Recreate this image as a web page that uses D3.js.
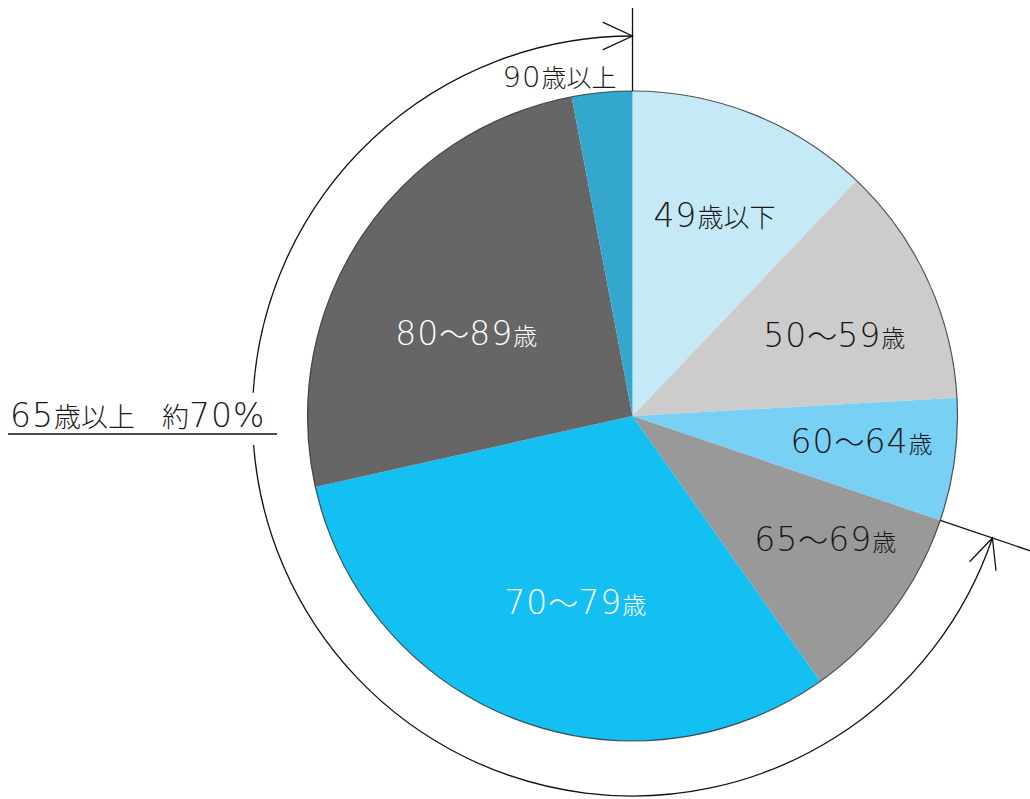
<!DOCTYPE html>
<html lang="ja">
<head>
<meta charset="utf-8">
<script src="https://cdn.jsdelivr.net/npm/d3@7"></script>
<style>
  html, body { margin: 0; padding: 0; background: #ffffff; }
  svg { display: block; }
</style>
</head>
<body>
<svg id="chart" width="1030" height="799"></svg>
<script>
// Age groups (share of total, %), clockwise from 12 o'clock
const categories = ["49歳以下", "50〜59歳", "60〜64歳", "65〜69歳", "70〜79歳", "80〜89歳", "90歳以上"];
const shares = [12.1, 12.0, 6.1, 10.0, 31.3, 25.5, 3.0];
// groups counted as "65歳以上"
const seniorGroups = ["65〜69歳", "70〜79歳", "80〜89歳", "90歳以上"];

const sliceColors = ["#c6e9f8", "#cccccc", "#79d0f5", "#999999", "#14bff1", "#666666", "#33a7cd"];
const labelColors = ["#1a1a1a", "#1a1a1a", "#1a1a1a", "#1a1a1a", "#ffffff", "#ffffff", "#1a1a1a"];

const W = 1030, H = 799;
const cx = 632.5, cy = 416, R = 325;
const ringR = 380;

const svg = d3.select("#chart");
const g = svg.append("g").attr("transform", `translate(${cx},${cy})`);

const pie = d3.pie().sort(null).value(d => d.value).startAngle(0).endAngle(2 * Math.PI);
const arcs = pie(categories.map((c, i) => ({ name: c, value: shares[i], i })));
const arc = d3.arc().innerRadius(0).outerRadius(R);

// slices
g.selectAll("path.slice")
  .data(arcs)
  .join("path")
  .attr("class", "slice")
  .attr("d", arc)
  .attr("fill", d => sliceColors[d.data.i]);

// thin rim
g.append("circle").attr("r", R).attr("fill", "none")
  .attr("stroke", "#2a2a2a").attr("stroke-width", 1.2).attr("stroke-opacity", 0.8);

// polar helper: angle clockwise from 12 o'clock
const polar = (a, r) => [r * Math.sin(a), -r * Math.cos(a)];

// mixed-font text: ASCII digits/symbols in a wide sans, the rest in CJK
function mixedText(sel, str, digitSize, cjkSize, tildeSize) {
  const runs = [];
  for (const ch of str) {
    const type = ch === "〜" ? "t" : (/[\x00-\x7f]/.test(ch) ? "a" : "k");
    if (runs.length && runs[runs.length - 1].type === type) runs[runs.length - 1].s += ch;
    else runs.push({ type, s: ch });
  }
  runs.forEach(r => {
    const t = sel.append("tspan").text(r.s);
    if (r.type === "a") {
      t.attr("font-family", "'DejaVu Sans', sans-serif").attr("font-weight", 200)
       .attr("font-size", digitSize).attr("letter-spacing", 1);
    } else if (r.type === "t") {
      t.attr("font-family", "'Noto Sans CJK JP', sans-serif").attr("font-weight", 300)
       .attr("font-size", tildeSize);
    } else {
      t.attr("font-family", "'Noto Sans CJK JP', sans-serif").attr("font-weight", 300)
       .attr("font-size", cjkSize);
    }
  });
  return sel;
}

// label placement: centroid on an inner ring, with small per-label shifts
const labelArc = d3.arc().innerRadius(218).outerRadius(218);
const labelShift = {
  "49歳以下": [1, 1], "50〜59歳": [4, 11], "60〜64歳": [13, -4],
  "65〜69歳": [18, -7], "70〜79歳": [21, -17], "80〜89歳": [16, 37]
};

arcs.forEach(d => {
  const name = d.data.name;
  if (!(name in labelShift)) return;
  const [x, y] = labelArc.centroid(d);
  const [sx, sy] = labelShift[name];
  const t = g.append("text")
    .attr("x", x + sx).attr("y", y + sy + 12)
    .attr("text-anchor", "middle")
    .attr("fill", labelColors[d.data.i]);
  const cjk = name === "49歳以下" ? 26 : 24;
  mixedText(t, name, 33, cjk, 30);
});

const lineStyle = s => s.attr("stroke", "#111").attr("stroke-width", 1.3).attr("fill", "none");

// vertical marker at 12 o'clock
const [tx0, ty0] = polar(0, R), [tx1, ty1] = polar(0, 408);
g.append("line").attr("x1", tx0).attr("y1", ty0).attr("x2", tx1).attr("y2", ty1).call(lineStyle);

// 90歳以上 label, outside the pie near the top
const last = arcs[arcs.length - 1];
{
  const t = g.append("text").attr("x", -73).attr("y", 87 - cy)
    .attr("text-anchor", "middle").attr("fill", labelColors[last.data.i]);
  mixedText(t, last.data.name, 29, 25, 28);
}

// 65+ bracket: radial line at its start boundary and an arrowed ring
const seniorArcs = arcs.filter(d => seniorGroups.includes(d.data.name));
const a0 = d3.min(seniorArcs, d => d.startAngle);
const a1 = d3.max(seniorArcs, d => d.endAngle);
const seniorShare = d3.sum(seniorArcs, d => d.data.value);

const [bx0, by0] = polar(a0, R), [bx1, by1] = polar(a0, 425);
g.append("line").attr("x1", bx0).attr("y1", by0).attr("x2", bx1).attr("y2", by1).call(lineStyle);

// ring, broken on the left where the caption sits
const gapA = 265.6 * Math.PI / 180, gapB = 273.5 * Math.PI / 180;
const ring = d3.path();
ring.arc(0, 0, ringR, a0 - Math.PI / 2, gapA - Math.PI / 2);
ring.moveTo(...polar(gapB, ringR));
ring.arc(0, 0, ringR, gapB - Math.PI / 2, a1 - Math.PI / 2);
g.append("path").attr("d", ring.toString()).call(lineStyle);

// open arrowheads at both ends, pointing outward along the ring
function arrowHead(a, dir) {
  // dir = +1: travelling clockwise, -1: counter-clockwise
  const [px, py] = polar(a, ringR);
  const tx = Math.cos(a) * dir, ty = Math.sin(a) * dir;
  const bxv = -tx, byv = -ty, L = 33, sp = 25 * Math.PI / 180;
  const rot = (x, y, t) => [x * Math.cos(t) - y * Math.sin(t), x * Math.sin(t) + y * Math.cos(t)];
  const [ux, uy] = rot(bxv, byv, sp), [vx, vy] = rot(bxv, byv, -sp);
  const p = d3.path();
  p.moveTo(px + ux * L, py + uy * L);
  p.lineTo(px, py);
  p.lineTo(px + vx * L, py + vy * L);
  g.append("path").attr("d", p.toString()).call(lineStyle);
}
arrowHead(a1, 1);
arrowHead(a0, -1);

// caption for the 65+ group, with underline
{
  const capText = "65歳以上　約" + Math.round(seniorShare) + "%";
  const t = svg.append("text").attr("x", 10).attr("y", 427).attr("fill", "#1a1a1a");
  mixedText(t, capText, 33, 27, 30);
  svg.append("line").attr("x1", 8).attr("x2", 277).attr("y1", 434).attr("y2", 434)
    .attr("stroke", "#111").attr("stroke-width", 1.3);
}
</script>
</body>
</html>
